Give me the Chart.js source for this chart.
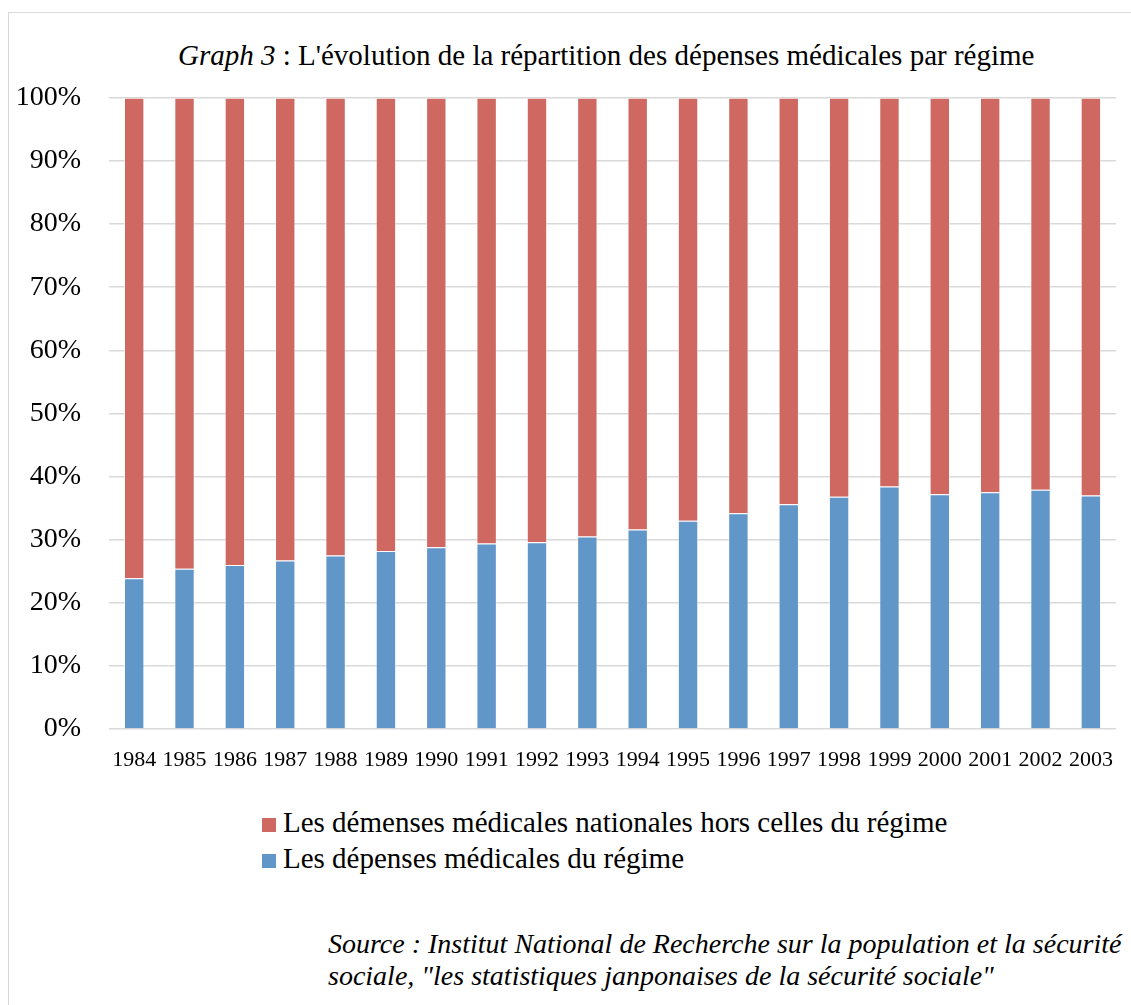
<!DOCTYPE html>
<html>
<head>
<meta charset="utf-8">
<script src="https://cdn.jsdelivr.net/npm/chart.js@4"></script>
<style>
  body { margin: 0; width: 1131px; height: 1005px; overflow: hidden; background: #fff; position: relative; font-family: "Liberation Serif", "Times New Roman", serif; color: #000; }
  #frame { position: absolute; left: 8px; top: 12px; width: 1200px; height: 1100px; border: 1.5px solid #d9d9d9; }
  #title { position: absolute; left: 178px; top: 39px; font-size: 29px; white-space: nowrap; }
  #wrap { position: absolute; left: 0; top: 53px; width: 1131px; height: 747px; }
  #legend { position: absolute; left: 262px; top: 804px; font-size: 29px; }
  #legend div { height: 36px; line-height: 36px; white-space: nowrap; }
  #legend span.box { display: inline-block; width: 14px; height: 14px; margin-right: 7px; vertical-align: 0px; }
  #source { position: absolute; left: 328px; top: 928px; font-size: 28px; font-style: italic; line-height: 32px; white-space: nowrap; }
</style>
</head>
<body>
<div id="frame"></div>
<div id="title"><i>Graph 3</i> : L'évolution de la répartition des dépenses médicales par régime</div>
<div id="wrap"><canvas id="chart"></canvas></div>
<div id="legend"></div>
<div id="source">Source : Institut National de Recherche sur la population et la sécurité<br>sociale, "les statistiques janponaises de la sécurité sociale"</div>
<script>
const years = ["1984", "1985", "1986", "1987", "1988", "1989", "1990", "1991", "1992", "1993",
  "1994", "1995", "1996", "1997", "1998", "1999", "2000", "2001", "2002", "2003"];

// part of the régime (bottom, blue)
const regime = [23.9, 25.4, 26.0, 26.7, 27.5, 28.2, 28.8, 29.4, 29.6, 30.5,
  31.6, 33.0, 34.2, 35.6, 36.8, 38.4, 37.2, 37.5, 37.9, 37.0];

// rest of national medical spending (top, red)
const horsRegime = [76.1, 74.6, 74.0, 73.3, 72.5, 71.8, 71.2, 70.6, 70.4, 69.5,
  68.4, 67.0, 65.8, 64.4, 63.2, 61.6, 62.8, 62.5, 62.1, 63.0];

const yTicks = [0, 10, 20, 30, 40, 50, 60, 70, 80, 90, 100];

const labelRegime = "Les dépenses médicales du régime";
const labelHors = "Les démenses médicales nationales hors celles du régime";
const blue = "#6196C9";
const red = "#CE6860";
const serif = "'Liberation Serif', 'Times New Roman', serif";

Chart.defaults.font.family = serif;
Chart.defaults.color = "#000";

function drawChart() {
  const ctx = document.getElementById("chart").getContext("2d");
  const chart = new Chart(ctx, {
    type: "bar",
    data: {
      labels: years,
      datasets: [
        { label: labelRegime, data: regime, backgroundColor: blue, borderColor: "rgba(255,255,255,0.4)", borderWidth: 1 },
        { label: labelHors, data: horsRegime, backgroundColor: red, borderColor: "rgba(255,255,255,0.4)", borderWidth: 1 },
      ],
    },
    options: {
      responsive: true,
      maintainAspectRatio: false,
      animation: false,
      layout: { padding: { left: 0, right: 5, top: 19, bottom: 0 } },
      datasets: { bar: { categoryPercentage: 1, barPercentage: 0.405 } },
      plugins: {
        legend: { display: false },
        title: { display: false },
        tooltip: { enabled: false },
      },
      scales: {
        x: {
          stacked: true,
          grid: { display: false, drawTicks: false },
          border: { display: false },
          ticks: {
            color: "#000",
            font: { family: serif, size: 22 },
            padding: 18,
            maxRotation: 0,
            autoSkip: false,
          },
          afterFit(scale) { scale.height = 71; },
        },
        y: {
          stacked: true,
          min: 0,
          max: 100,
          afterBuildTicks(scale) { scale.ticks = yTicks.map(v => ({ value: v })); },
          grid: { color: "#d9d9d9", lineWidth: 1.5, drawTicks: false },
          border: { display: false },
          ticks: {
            color: "#000",
            font: { family: serif, size: 28 },
            padding: 28,
            callback: v => v + "%",
          },
          afterFit(scale) { scale.width = 109; },
        },
      },
    },
  });

  // legend in the same order as the original (red first)
  const legend = document.getElementById("legend");
  [1, 0].forEach(i => {
    const ds = chart.data.datasets[i];
    const row = document.createElement("div");
    const box = document.createElement("span");
    box.className = "box";
    box.style.background = ds.backgroundColor;
    row.appendChild(box);
    row.appendChild(document.createTextNode(ds.label));
    legend.appendChild(row);
  });
}

Promise.all([
  document.fonts.load("28px 'Liberation Serif'"),
  document.fonts.load("22px 'Liberation Serif'"),
]).then(drawChart, drawChart);
</script>
</body>
</html>
